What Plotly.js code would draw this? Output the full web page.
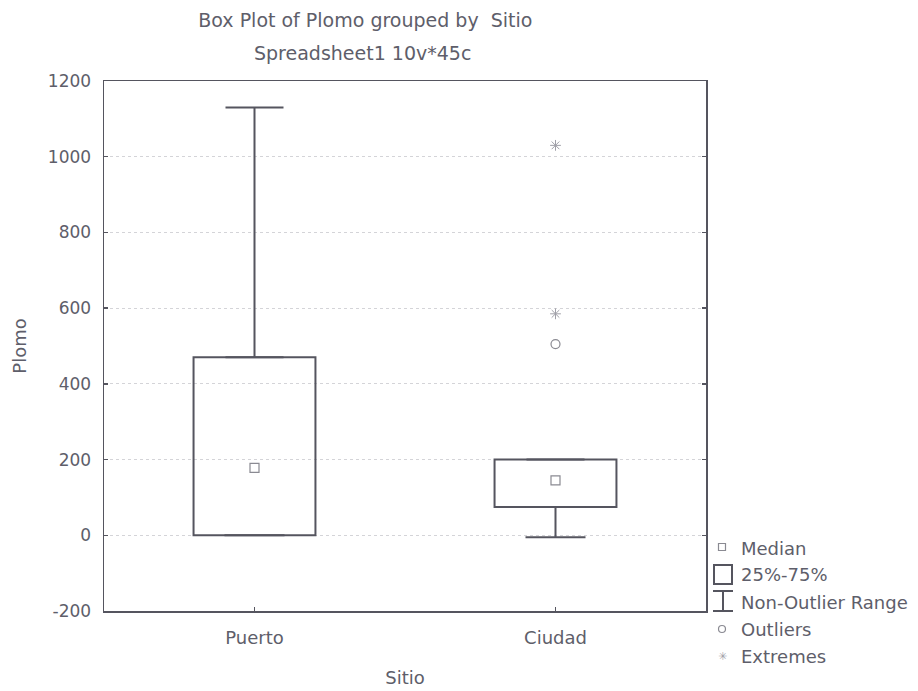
<!DOCTYPE html>
<html>
<head>
<meta charset="utf-8">
<script src="https://cdn.plot.ly/plotly-3.0.1.min.js"></script>
<style>html,body{margin:0;padding:0;background:#fff;}#chart{width:918px;height:691px;}</style>
</head>
<body>
<div id="chart"></div>
<script>
// Data
const sitios = ['Puerto', 'Ciudad'];
const q1 = [0, 75];
const medians = [178, 145];
const q3 = [470, 200];
const nonOutlierMin = [0, -5];
const nonOutlierMax = [1130, 200];
const outlierSitio = ['Ciudad'];
const outlierVals = [505];
const extremeSitio = ['Ciudad', 'Ciudad'];
const extremeVals = [585, 1030];
const yTicks = [-200, 0, 200, 400, 600, 800, 1000, 1200];
const legendLabels = ['Median', '25%-75%', 'Non-Outlier Range', 'Outliers', 'Extremes'];
const titleText = 'Box Plot of Plomo grouped by  Sitio';
const subtitleText = 'Spreadsheet1 10v*45c';

const ink = '#55555f';
const txt = '#5e5e6a';
const fontFam = 'DejaVu Sans, Liberation Sans, sans-serif';

const traces = [
  { // 25%-75% boxes
    type: 'bar', x: sitios, base: q1, y: q3.map((v, i) => v - q1[i]),
    width: 0.405, marker: {color: 'rgba(255,255,255,0)', line: {color: ink, width: 2}},
    showlegend: false, hoverinfo: 'skip'
  },
  { // upper whiskers
    type: 'scatter', mode: 'markers', x: sitios, y: q3,
    marker: {size: 1, opacity: 0},
    error_y: {type: 'data', symmetric: false, array: nonOutlierMax.map((v, i) => v - q3[i]),
      arrayminus: q3.map(() => 0), color: ink, thickness: 2, width: 29},
    showlegend: false
  },
  { // lower whiskers
    type: 'scatter', mode: 'markers', x: sitios, y: q1,
    marker: {size: 1, opacity: 0},
    error_y: {type: 'data', symmetric: false, array: q1.map(() => 0),
      arrayminus: q1.map((v, i) => v - nonOutlierMin[i]), color: ink, thickness: 2, width: 30},
    showlegend: false
  },
  { // medians
    type: 'scatter', mode: 'markers', x: sitios, y: medians,
    marker: {symbol: 'square-open', size: 9, color: '#8a8a92', line: {width: 1.2}},
    showlegend: false
  },
  { // outliers
    type: 'scatter', mode: 'markers', x: outlierSitio, y: outlierVals,
    marker: {symbol: 'circle-open', size: 9, color: '#8a8a92', line: {width: 1.2}},
    showlegend: false
  },
  { // extremes
    type: 'scatter', mode: 'markers', x: extremeSitio, y: extremeVals,
    marker: {symbol: 'asterisk-open', size: 9, color: '#a0a0a8', line: {width: 1}},
    showlegend: false
  }
];

// legend drawn in paper coordinates (pixel helpers)
const L = 104, T = 81, W = 602, H = 530;
const px = v => (v - L) / W;
const py = v => 1 - (v - T) / H;
const legY = [548, 574, 602, 629, 656];
const annotations = legendLabels.map((lab, i) => ({
  xref: 'paper', yref: 'paper', x: px(739), y: py(legY[i]),
  xanchor: 'left', yanchor: 'middle', text: lab, showarrow: false,
  font: {family: fontFam, size: 18, color: txt}
}));
annotations.push({xref: 'paper', yref: 'paper', x: px(722), y: py(656), xanchor: 'center', yanchor: 'middle',
  text: '\u2733', showarrow: false, font: {family: 'DejaVu Sans', size: 11, color: '#a0a0a8'}});
annotations.push({xref: 'paper', yref: 'paper', x: px(362), y: py(53), xanchor: 'center', yanchor: 'middle',
  text: subtitleText, showarrow: false, font: {family: fontFam, size: 19, color: txt}});

const sh = {xref: 'paper', yref: 'paper'};
const shapes = [
  Object.assign({type: 'rect', x0: px(718.5), x1: px(725.5), y0: py(550.5), y1: py(543.5),
    line: {color: '#8a8a92', width: 1.2}}, sh),
  Object.assign({type: 'rect', x0: px(714), x1: px(732), y0: py(584), y1: py(565),
    line: {color: ink, width: 2}}, sh),
  Object.assign({type: 'line', x0: px(723), x1: px(723), y0: py(591), y1: py(611), line: {color: ink, width: 2}}, sh),
  Object.assign({type: 'line', x0: px(713), x1: px(733), y0: py(591), y1: py(591), line: {color: ink, width: 2}}, sh),
  Object.assign({type: 'line', x0: px(713), x1: px(733), y0: py(611), y1: py(611), line: {color: ink, width: 2}}, sh),
  Object.assign({type: 'circle', x0: px(718.5), x1: px(725.5), y0: py(632.5), y1: py(625.5),
    line: {color: '#8a8a92', width: 1.2}}, sh)
];

const layout = {
  width: 918, height: 691,
  margin: {l: 104, r: 212, t: 81, b: 80},
  paper_bgcolor: '#ffffff', plot_bgcolor: '#ffffff',
  font: {family: fontFam, size: 17, color: txt},
  title: {
    text: titleText,
    x: 0.398, xref: 'container', xanchor: 'center',
    y: 1 - 20 / 691, yref: 'container', yanchor: 'middle',
    font: {family: fontFam, size: 19, color: txt}
  },
  xaxis: {
    type: 'category', range: [-0.5, 1.5],
    showline: true, mirror: true, linecolor: ink, linewidth: 1.5,
    ticks: 'inside', ticklen: 4, tickcolor: ink, tickwidth: 1.5,
    showgrid: false, zeroline: false, ticklabelstandoff: 10,
    tickfont: {family: fontFam, size: 18, color: txt},
    title: {text: 'Sitio', font: {family: fontFam, size: 18, color: txt}, standoff: 24}
  },
  yaxis: {
    range: [-200, 1200], tickvals: yTicks, ticktext: yTicks.map(String),
    showline: true, mirror: 'ticks', linecolor: ink, linewidth: 1.5,
    ticks: 'inside', ticklen: 4, tickcolor: ink, tickwidth: 1.5,
    showgrid: true, gridcolor: '#d4d4d8', griddash: 'dot', gridwidth: 1,
    zeroline: false, ticklabelstandoff: 8,
    tickfont: {family: fontFam, size: 17, color: txt},
    title: {text: 'Plomo', font: {family: fontFam, size: 18, color: txt}, standoff: 16}
  },
  annotations: annotations,
  shapes: shapes,
  showlegend: false
};

Plotly.newPlot('chart', traces, layout, {displayModeBar: false, staticPlot: true});
</script>
</body>
</html>
